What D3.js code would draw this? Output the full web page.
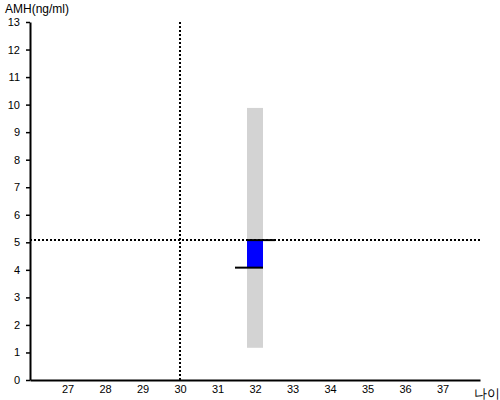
<!DOCTYPE html>
<html>
<head>
<meta charset="utf-8">
<script src="https://cdn.jsdelivr.net/npm/d3@7"></script>
<style>
  body { margin: 0; background: #fff; }
  text { font-family: "Liberation Sans", Arial, sans-serif; }
</style>
</head>
<body>
<svg id="chart" width="500" height="400"></svg>
<script>
// axis ticks
var xTicks = [27, 28, 29, 30, 31, 32, 33, 34, 35, 36, 37];
var yTicks = [0, 1, 2, 3, 4, 5, 6, 7, 8, 9, 10, 11, 12, 13];
// reference range (gray) and the patient value
var ageRef = [32];
var rangeLow = [1.17];
var rangeHigh = [9.88];
var valueLow = [4.08];
var valueHigh = [5.08];
// crosshair
var crossAge = 30;
var crossAmh = 5.08;

var svg = d3.select("#chart"),
    width = 500, height = 400;

var x = d3.scaleLinear().domain([26, 38]).range([30, 480]);
var y = d3.scaleLinear().domain([0, 13]).range([380, 22]);

var g = svg.append("g");

// gray reference band
var bw = 16;
g.selectAll(".range")
  .data(ageRef)
  .enter().append("rect")
    .attr("class", "range")
    .attr("x", function(d) { return x(d) - bw / 2; })
    .attr("y", function(d, i) { return y(rangeHigh[i]); })
    .attr("width", bw)
    .attr("height", function(d, i) { return y(rangeLow[i]) - y(rangeHigh[i]); })
    .attr("fill", "#d3d3d3");

// blue value box
g.selectAll(".val")
  .data(ageRef)
  .enter().append("rect")
    .attr("class", "val")
    .attr("x", function(d) { return x(d) - bw / 2; })
    .attr("y", function(d, i) { return y(valueHigh[i]); })
    .attr("width", bw)
    .attr("height", function(d, i) { return y(valueLow[i]) - y(valueHigh[i]); })
    .attr("fill", "#0000ff");

// dotted crosshair
g.append("line")
  .attr("x1", x(crossAge)).attr("x2", x(crossAge))
  .attr("y1", y(13)).attr("y2", y(0))
  .attr("stroke", "#000").attr("stroke-width", 2)
  .attr("stroke-dasharray", "2,2");
g.append("line")
  .attr("x1", x(26)).attr("x2", x(38))
  .attr("y1", y(crossAmh)).attr("y2", y(crossAmh))
  .attr("stroke", "#000").attr("stroke-width", 2)
  .attr("stroke-dasharray", "2,2");

// black marks at top and bottom of the value box
ageRef.forEach(function(d, i) {
  g.append("line")
    .attr("x1", x(d) - bw / 2).attr("x2", x(d) + bw / 2 + 12)
    .attr("y1", y(valueHigh[i])).attr("y2", y(valueHigh[i]))
    .attr("stroke", "#000").attr("stroke-width", 2);
  g.append("line")
    .attr("x1", x(d) - bw / 2 - 12).attr("x2", x(d) + bw / 2)
    .attr("y1", y(valueLow[i])).attr("y2", y(valueLow[i]))
    .attr("stroke", "#000").attr("stroke-width", 2);
});

// y axis
var yAxis = g.append("g")
  .attr("transform", "translate(" + x(26) + ",0)")
  .call(d3.axisLeft(y).tickValues(yTicks).tickSize(4).tickSizeOuter(0));
yAxis.select(".domain").attr("stroke-width", 2);
yAxis.selectAll(".tick line").attr("stroke-width", 1.5);
yAxis.selectAll("text").attr("font-size", 11).attr("fill", "#000").attr("dx", "-3");

// x axis
var xAxis = g.append("g")
  .attr("transform", "translate(0," + y(0) + ")")
  .call(d3.axisBottom(x).tickValues(xTicks).tickSize(0).tickSizeOuter(0));
xAxis.select(".domain").attr("stroke-width", 2);
xAxis.selectAll("text").attr("font-size", 11).attr("fill", "#000").attr("dy", "0.9em");

// labels
svg.append("text")
  .attr("x", 5).attr("y", 13)
  .attr("font-size", 12)
  .text("AMH(ng/ml)");
svg.append("text")
  .attr("x", 474).attr("y", 398)
  .attr("font-size", 13)
  .text("나이");
</script>
</body>
</html>
